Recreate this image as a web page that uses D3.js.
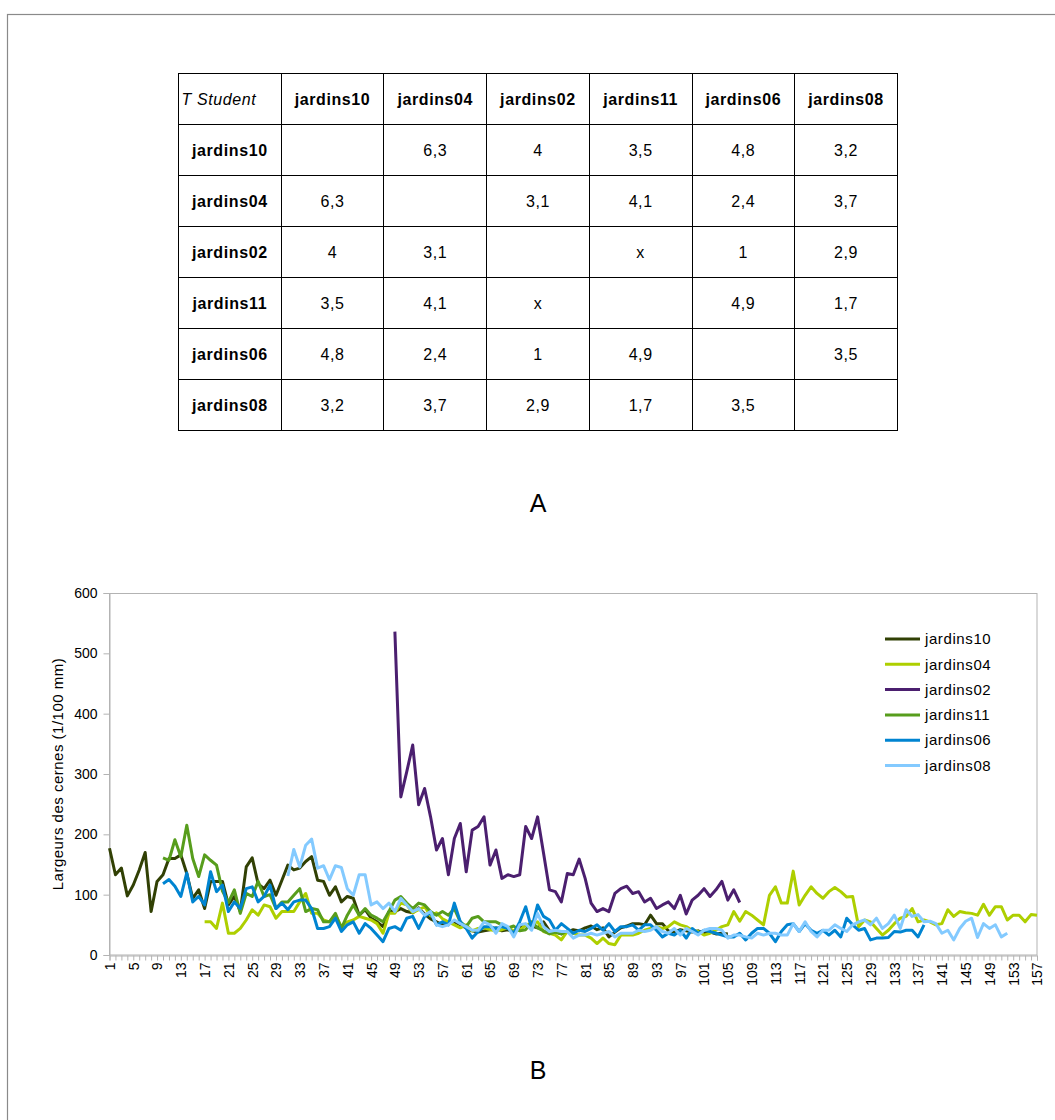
<!DOCTYPE html>
<html>
<head>
<meta charset="utf-8">
<script src="https://cdn.jsdelivr.net/npm/d3@7"></script>
<style>
  body { margin: 0; background: #fff; }
  svg { font-family: 'Liberation Sans', Arial, sans-serif; }
</style>
</head>
<body>
<div id="grafica"></div>
<script>
// --- données ---
jardins = ['jardins10', 'jardins04', 'jardins02', 'jardins11', 'jardins06', 'jardins08']

// tableau T Student ('' = case vide)
tStudent = [
  ['',    '6,3', '4',   '3,5', '4,8', '3,2'],
  ['6,3', '',    '3,1', '4,1', '2,4', '3,7'],
  ['4',   '3,1', '',    'x',   '1',   '2,9'],
  ['3,5', '4,1', 'x',   '',    '4,9', '1,7'],
  ['4,8', '2,4', '1',   '4,9', '',    '3,5'],
  ['3,2', '3,7', '2,9', '1,7', '3,5', '']
]

categories = d3.range(1, 158)
yTicks = [0, 100, 200, 300, 400, 500, 600]

// première année de chaque série
debut = [1, 17, 49, 10, 10, 31]

j10 = [177,133,144,98,116,141,170,72,122,133,
       160,160,166,135,94,108,77,122,122,122,
       83,97,72,146,161,118,110,124,99,124,
       149,141,144,155,163,124,122,99,113,88,
       97,94,66,75,61,55,47,72,72,77,
       72,70,78,68,60,55,50,52,55,50,
       45,40,38,40,42,45,40,42,38,45,
       50,48,45,55,40,38,35,38,42,40,
       45,48,42,45,30,38,45,48,52,52,
       50,66,52,52,40,38,42,40,38,40,
       36,38,35,36,35]

j04 = [55,55,44,86,36,36,44,58,75,66,
       83,80,61,72,72,72,88,102,69,69,
       58,55,66,47,55,58,64,61,58,52,
       36,69,69,86,83,70,75,80,65,70,
       60,55,50,45,50,40,44,45,42,40,
       42,45,40,41,50,52,55,39,36,33,
       25,39,36,33,33,28,19,28,19,17,
       33,33,33,36,41,44,47,44,47,55,
       50,47,41,39,33,36,41,47,50,72,
       56,72,66,58,50,99,113,86,86,139,
       83,99,113,102,94,105,112,105,96,97,
       47,58,55,44,33,41,52,61,64,77,
       55,58,55,50,52,75,64,72,70,69,
       66,84,66,80,80,58,66,66,55,67,
       66]

j02 = [536,262,304,348,249,276,229,174,193,133,
       193,218,138,207,213,229,149,174,127,133,
       130,133,213,193,229,169,108,105,88,135,
       133,159,127,86,72,77,72,102,110,114,
       102,105,88,94,77,83,88,77,99,68,
       91,99,110,97,108,122,91,108,87]

j11 = [161,157,191,163,215,160,130,166,157,149,
       106,87,108,69,102,97,122,97,100,77,
       88,88,99,110,72,77,75,55,55,69,
       44,66,83,66,77,66,61,55,72,91,
       97,86,77,86,83,72,66,72,66,77,
       55,47,61,64,55,55,55,50,45,48,
       40,42,55,45,40,35,38,35,40]

j06 = [118,125,114,97,136,88,97,83,138,105,
       116,72,88,77,110,113,88,97,116,77,
       86,75,88,91,91,77,44,44,47,61,
       39,50,55,36,52,44,33,22,44,47,
       41,61,64,44,64,70,50,55,50,86,
       55,44,28,39,47,47,44,47,44,36,
       55,80,44,83,64,58,41,52,44,36,
       41,39,44,50,41,52,39,47,47,50,
       41,50,50,41,30,36,33,41,28,44,
       36,41,39,36,33,30,30,36,25,36,
       44,44,36,22,39,50,52,39,52,41,
       36,41,33,41,30,61,50,41,44,25,
       28,28,29,39,38,41,41,30,50]

j08 = [131,175,146,182,192,144,148,125,148,145,
       110,99,133,133,83,88,77,86,72,94,
       83,72,77,66,72,50,47,50,58,52,
       47,41,41,55,50,36,52,47,30,50,
       52,41,69,47,39,41,39,39,28,33,
       33,36,33,36,39,30,36,36,36,41,
       39,41,47,39,36,44,33,44,39,33,
       41,44,44,41,28,33,33,30,28,36,
       33,36,36,33,33,52,39,55,39,30,
       41,41,50,44,39,50,55,58,50,61,
       44,52,66,44,75,64,67,55,56,52,
       36,41,25,44,56,61,29,52,44,50,
       30,36]

valeurs = [j10, j04, j02, j11, j06, j08]
couleurs = ['#314004', '#aecf00', '#4b1f6f', '#579d1c', '#0084d1', '#83caff']

// --- svg ---
svg = d3
        .select('#grafica')
        .append('svg')
        .attr('width', 1055)
        .attr('height', 1120)

// cadre extérieur
svg.append('rect')
   .attr('x', 7.5).attr('y', 14.5)
   .attr('width', 1200).attr('height', 1300)
   .attr('fill', 'none')
   .attr('stroke', '#8a8a8a')
   .attr('stroke-width', 1.2)

// --- tableau ---
cellW = 102.7
cellH = 51
tab = svg.append('g').attr('transform', 'translate(178.5,73.5)')
entetes = ['T Student'].concat(jardins)

for (r = 0; r < 7; r++) {
  for (c = 0; c < 7; c++) {
    tab.append('rect')
       .attr('x', Math.round(c * cellW))
       .attr('y', r * cellH)
       .attr('width', Math.round((c + 1) * cellW) - Math.round(c * cellW))
       .attr('height', cellH)
       .attr('fill', 'none')
       .attr('stroke', '#000')
       .attr('stroke-width', 1)
    txt = ''
    bold = false
    if (r == 0) { txt = entetes[c]; bold = c > 0 }
    else if (c == 0) { txt = jardins[r - 1]; bold = true }
    else txt = tStudent[r - 1][c - 1]
    t = tab.append('text')
           .attr('y', r * cellH + 31)
           .attr('font-size', '16px')
           .attr('letter-spacing', '0.6px')
           .attr('font-weight', bold ? 'bold' : 'normal')
           .text(txt)
    if (r == 0 && c == 0) {
      t.attr('x', 3).attr('font-style', 'italic').attr('font-size', '16px')
    } else {
      t.attr('x', c * cellW + cellW / 2).attr('text-anchor', 'middle')
    }
  }
}

svg.append('text')
   .attr('x', 538).attr('y', 512)
   .attr('text-anchor', 'middle')
   .attr('font-size', '25px')
   .text('A')

svg.append('text')
   .attr('x', 538).attr('y', 1079)
   .attr('text-anchor', 'middle')
   .attr('font-size', '25px')
   .text('B')

// --- graphique ---
x = d3.scalePoint().domain(categories).range([109.5, 1037])
y = d3.scaleLinear().domain([0, 600]).range([955, 593])

g = svg.append('g')

g.append('rect')
 .attr('x', 109.5).attr('y', 593.5)
 .attr('width', 1037 - 109.5).attr('height', 955 - 593.5)
 .attr('fill', 'none')
 .attr('stroke', '#b3b3b3')

yGroup = g.append('g').attr('transform', 'translate(109.5,0)')
yGroup.call(d3.axisLeft(y).tickValues(yTicks).tickSize(6).tickPadding(6))
yGroup.selectAll('path, line').attr('stroke', '#b3b3b3')
yGroup.selectAll('text')
      .attr('font-size', '14px')
      .attr('font-family', "'Liberation Sans', Arial, sans-serif")
      .attr('fill', '#000')

xGroup = g.append('g').attr('transform', 'translate(0,955.5)')
xGroup.call(d3.axisBottom(x)
                .tickSize(5)
                .tickFormat((d) => (d - 1) % 4 == 0 ? d : ''))
xGroup.selectAll('path, line').attr('stroke', '#b3b3b3')
xGroup.selectAll('text')
      .attr('font-size', '14px')
      .attr('font-family', "'Liberation Sans', Arial, sans-serif")
      .attr('fill', '#000')
      .attr('transform', 'rotate(-90)')
      .attr('x', -7)
      .attr('y', 0)
      .attr('dy', '0.35em')
      .style('text-anchor', 'end')

g.append('text')
 .attr('transform', 'translate(63,774) rotate(-90)')
 .attr('text-anchor', 'middle')
 .attr('font-size', '15px')
 .attr('letter-spacing', '0.5px')
 .text('Largeurs des cernes (1/100 mm)')

ligne = d3.line()
          .x((d) => x(d.cat))
          .y((d) => y(d.v))

valeurs.forEach((serie, k) => {
  pts = serie.map((v, i) => ({ cat: debut[k] + i, v: v }))
  g.append('path')
   .datum(pts)
   .attr('d', ligne)
   .attr('fill', 'none')
   .attr('stroke', couleurs[k])
   .attr('stroke-width', 3)
   .attr('stroke-linejoin', 'round')
})

// légende
leg = g.selectAll('.leg')
       .data(jardins)
       .enter()
       .append('g')
       .attr('transform', (d, i) => 'translate(885,' + (639 + i * 25.3) + ')')
leg.append('line')
   .attr('x1', 0).attr('x2', 35)
   .attr('stroke', (d, i) => couleurs[i])
   .attr('stroke-width', 3)
leg.append('text')
   .attr('x', 40)
   .attr('dy', '0.35em')
   .attr('font-size', '15px')
   .attr('letter-spacing', '0.6px')
   .text((d) => d)
</script>
</body>
</html>
